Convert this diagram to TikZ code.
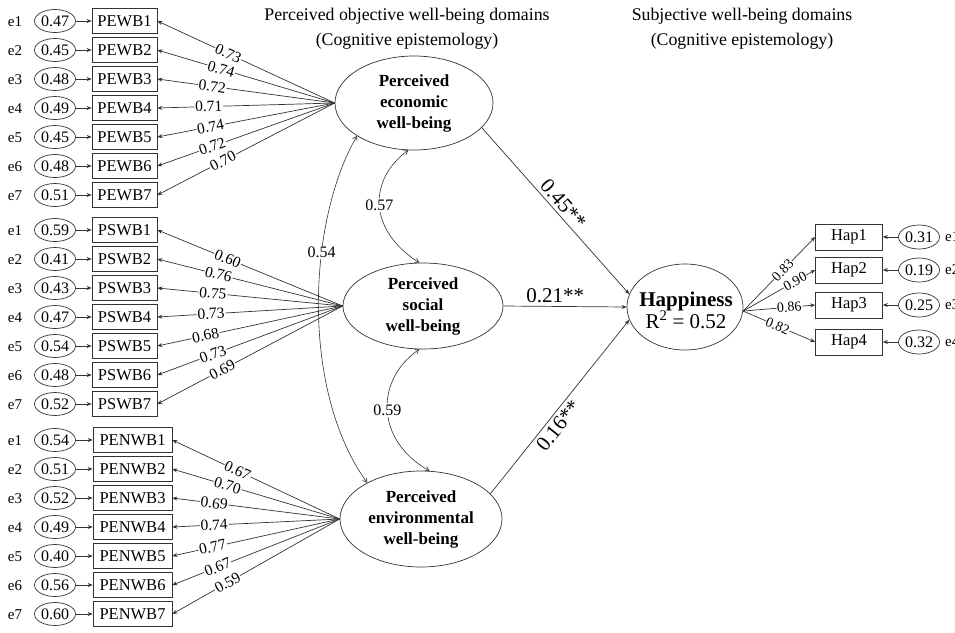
\documentclass[tikz,border=0pt]{standalone}
\usepackage{fontspec}
\setmainfont{Liberation Serif}
\usetikzlibrary{shapes.geometric,arrows.meta,calc}
\begin{document}
\begin{tikzpicture}[x=1pt,y=-1pt,
  ln/.style={draw=black!80, line width=0.7pt},
  arr/.style={ln, -{Stealth[length=5pt,width=4pt]}},
  cov/.style={draw=black!80, line width=0.6pt, {Straight Barb[length=4pt,width=5pt]}-{Straight Barb[length=4pt,width=5pt]}},
  obs/.style={draw=black!80, line width=0.7pt, rectangle, minimum width=65, minimum height=25, inner sep=0, font=\fontsize{16.5}{18}\selectfont},
  obsw/.style={obs, minimum width=79},
  errell/.style={draw=black!80, line width=0.7pt, ellipse, minimum width=41, minimum height=23, inner sep=0, font=\fontsize{16}{18}\selectfont},
  elab/.style={inner sep=0, font=\fontsize{15}{17}\selectfont},
  lat/.style={draw=black!80, line width=0.7pt, ellipse, inner sep=0, align=center, font=\bfseries\fontsize{17}{21}\selectfont},
  lbl/.style={sloped, fill=white, inner sep=0.8pt, font=\fontsize{15.5}{17}\selectfont},
  lblh/.style={sloped, fill=white, inner sep=0.5pt, font=\fontsize{14}{16}\selectfont},
  covlbl/.style={fill=white, inner sep=1.5pt, font=\fontsize{16}{18}\selectfont},
  coef/.style={inner sep=3pt, font=\fontsize{21}{24}\selectfont},
  ttl/.style={align=center, font=\fontsize{17.8}{25}\selectfont}
]
\useasboundingbox (0,0) rectangle (955,632);
\fill[white] (0,0) rectangle (955,632);

% titles
\node[ttl] (t1) at (407,29) {Perceived objective well-being domains\\(Cognitive epistemology)};
\node[ttl] (t2) at (742,29) {Subjective well-being domains\\(Cognitive epistemology)};

% latent variables
\node[lat, minimum width=158, minimum height=94] (econ) at (414,103) {Perceived\\economic\\well-being};
\node[lat, minimum width=160, minimum height=86] (soc) at (423,306) {Perceived\\social\\well-being};
\node[lat, minimum width=162, minimum height=96] (env) at (421,519) {Perceived\\environmental\\well-being};
\node[draw=black!80, line width=0.7pt, ellipse, minimum width=116, minimum height=86, inner sep=0] (hap) at (685,307) {};
\node[align=center, inner sep=0] (haptxt) at (686,310) {{\bfseries\fontsize{21}{27}\selectfont Happiness}\\[-1pt]{\fontsize{21}{27}\selectfont R\textsuperscript{2} = 0.52}};

% group 1
\foreach \n/\er/\ld/\p in {1/0.47/0.73/0.60, 2/0.45/0.74/0.64, 3/0.48/0.72/0.69, 4/0.49/0.71/0.71, 5/0.45/0.74/0.70, 6/0.48/0.72/0.69, 7/0.51/0.70/0.63} {
  \pgfmathsetmacro\yy{21+29*(\n-1)}
  \node[obs] (pe\n) at (124.5,\yy) {PEWB\n};
  \node[errell] (epe\n) at (55,\yy) {\er};
  \node[elab] (lpe\n) at (15,\yy+1) {e\n};
  \draw[arr] (epe\n) -- (pe\n);
  \draw[arr] (econ.west) -- node[lbl,pos=\p]{\ld} (pe\n.east);
}
% group 2
\foreach \n/\er/\ld/\p in {1/0.59/0.60/0.62, 2/0.41/0.76/0.67, 3/0.43/0.75/0.70, 4/0.47/0.73/0.71, 5/0.54/0.68/0.74, 6/0.48/0.73/0.70, 7/0.52/0.69/0.65} {
  \pgfmathsetmacro\yy{230+29*(\n-1)}
  \node[obs] (ps\n) at (124.5,\yy) {PSWB\n};
  \node[errell] (eps\n) at (55,\yy) {\er};
  \node[elab] (lps\n) at (15,\yy+1) {e\n};
  \draw[arr] (eps\n) -- (ps\n);
  \draw[arr] (soc.west) -- node[lbl,pos=\p]{\ld} (ps\n.east);
}
% group 3
\foreach \n/\er/\ld/\p in {1/0.54/0.67/0.61, 2/0.51/0.70/0.67, 3/0.52/0.69/0.75, 4/0.49/0.74/0.75, 5/0.40/0.77/0.76, 6/0.56/0.67/0.73, 7/0.60/0.59/0.67} {
  \pgfmathsetmacro\yy{440+29*(\n-1)}
  \node[obsw] (pn\n) at (132.5,\yy) {PENWB\n};
  \node[errell] (epn\n) at (55,\yy) {\er};
  \node[elab] (lpn\n) at (15,\yy+1) {e\n};
  \draw[arr] (epn\n) -- (pn\n);
  \draw[arr] (env.west) -- node[lbl,pos=\p]{\ld} (pn\n.east);
}

% covariances
\draw[cov] (econ.-97) .. controls (368,180) and (368,230) .. node[covlbl]{0.57} (soc.95);
\draw[cov] (econ.210) .. controls (308,220) and (300,390) .. node[covlbl,pos=0.36]{0.54} (env.146);
\draw[cov] (soc.-95) .. controls (375,380) and (375,440) .. node[covlbl]{0.59} (env.80);

% structural paths
\draw[arr] (econ.-20) -- node[coef, sloped, above, pos=0.5]{0.45**} (hap.167);
\draw[arr] (soc.east) -- node[coef, above, pos=0.42]{0.21**} (hap.west);
\draw[arr] (env.20) -- node[coef, sloped, below, pos=0.43]{0.16**} (hap.193);

% happiness indicators
\coordinate (hc) at (hap.-4);
\foreach \n/\yy/\er/\ld/\p in {1/237/0.31/0.83/0.55, 2/270/0.19/0.90/0.72, 3/305/0.25/0.86/0.64, 4/342/0.32/0.82/0.48} {
  \node[obs, minimum width=67, minimum height=26] (h\n) at (849,\yy) {Hap\n};
  \node[errell, minimum height=24] (eh\n) at (919,\yy) {\er};
  \node[elab, anchor=west] (lh\n) at (945,\yy) {e\n};
  \draw[arr] (eh\n) -- (h\n);
  \draw[arr] (hc) -- node[lblh,pos=\p]{\ld} (h\n.west);
}
\end{tikzpicture}
\end{document}
